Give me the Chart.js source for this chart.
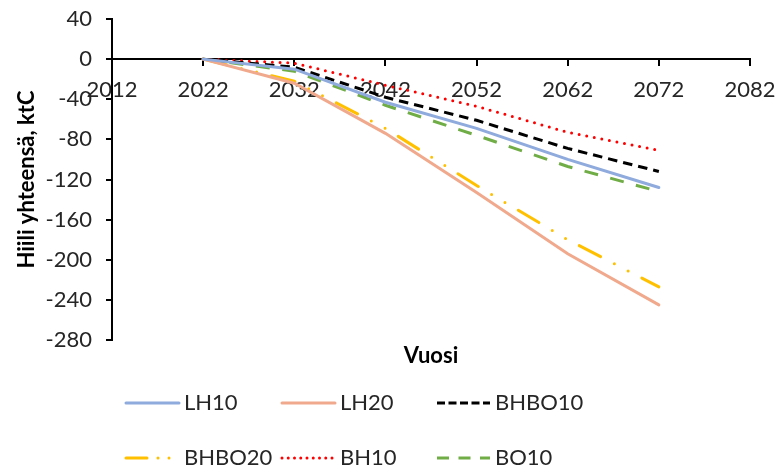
<!DOCTYPE html>
<html>
<head>
<meta charset="utf-8">
<script src="https://cdn.jsdelivr.net/npm/chart.js@4.4.1/dist/chart.umd.min.js"></script>
<style>
    html, body { margin: 0; padding: 0; background: #fff; }
    #wrap { width: 776px; height: 468px; }
</style>
</head>
<body>
<div id="wrap"><canvas id="carbonChart" width="776" height="468"></canvas></div>
<script>
// Total carbon per scenario, ktC
const years = [2022, 2032, 2042, 2052, 2062, 2072];
const lh10 = [0, -10, -43, -69, -100, -128];
const lh20 = [0, -24, -74, -133, -194, -245];
const bhbo10 = [0, -8, -38, -61, -89, -112];
const bhbo20 = [0, -22, -69, -126, -180, -227];
const bh10 = [0, -4, -26, -47, -73, -91];
const bo10 = [0, -12, -46, -76, -107, -132];

const FONT = 'Lato, "Open Sans", sans-serif';
const TEXT = '#262626';

function toPoints(values) {
    return values.map((v, i) => ({ x: years[i], y: v }));
}

function series(label, values, color, dash, cap, legendDash) {
    return {
        label: label,
        data: toPoints(values),
        borderColor: color,
        borderWidth: 3,
        borderDash: dash,
        borderCapStyle: cap,
        legendDash: legendDash,
        pointRadius: 0,
        tension: 0,
        fill: false
    };
}

// tick labels may overhang the plot edges; layout padding already leaves room
function noOverhang(scale) {
    scale.paddingTop = 0;
    scale.paddingBottom = 0;
    scale.paddingLeft = 0;
    scale.paddingRight = 0;
}

// Legend laid out in a fixed 3x2 grid below the plot
const legendCols = [126, 282, 437];
const legendRows = [403, 458];
const sampleLen = 53;

const bottomTexts = {
    id: 'bottomTexts',
    afterDraw(chart) {
        const ctx = chart.ctx;
        const area = chart.chartArea;
        ctx.save();

        // x axis title sits under the plot, not at the zero line
        ctx.fillStyle = '#000';
        ctx.font = 'bold 22px ' + FONT;
        ctx.textAlign = 'center';
        ctx.textBaseline = 'middle';
        ctx.fillText('Vuosi', (area.left + area.right) / 2, 356);

        ctx.font = '22px ' + FONT;
        ctx.textAlign = 'left';
        chart.data.datasets.forEach((ds, i) => {
            const x = legendCols[i % 3];
            const y = legendRows[Math.floor(i / 3)];
            ctx.strokeStyle = ds.borderColor;
            ctx.lineWidth = ds.borderWidth;
            ctx.lineCap = ds.borderCapStyle || 'butt';
            ctx.setLineDash(ds.legendDash || ds.borderDash || []);
            ctx.beginPath();
            ctx.moveTo(x, y);
            ctx.lineTo(x + sampleLen, y);
            ctx.stroke();
            ctx.setLineDash([]);
            ctx.fillStyle = TEXT;
            ctx.fillText(ds.label, x + sampleLen + 5, y);
        });
        ctx.restore();
    }
};

new Chart(document.getElementById('carbonChart'), {
    type: 'line',
    data: {
        datasets: [
            series('LH10', lh10, '#8FAADC', [], 'round'),
            series('LH20', lh20, '#F0A98C', [], 'round'),
            series('BHBO10', bhbo10, '#000000', [9.5, 6], 'butt', [8, 3.5]),
            series('BHBO20', bhbo20, '#FFC000', [24, 15.5, 0, 15.5, 0, 15.5], 'round', [21, 11, 0, 11, 0, 11]),
            series('BH10', bh10, '#FF0000', [0, 7.7], 'round', [0, 6.25]),
            series('BO10', bo10, '#70AD47', [14, 12.6], 'butt', [12, 9.5])
        ]
    },
    options: {
        animation: false,
        responsive: false,
        layout: { padding: { left: 0, right: 26, top: 19, bottom: 128 } },
        plugins: {
            legend: { display: false },
            tooltip: { enabled: false }
        },
        scales: {
            x: {
                type: 'linear',
                position: { y: 0 },
                min: 2012,
                max: 2082,
                ticks: {
                    stepSize: 10,
                    maxRotation: 0,
                    padding: 12,
                    color: TEXT,
                    font: { family: FONT, size: 22 },
                    callback: v => String(v)
                },
                grid: { drawOnChartArea: false, drawTicks: true, tickLength: 6, color: '#000', lineWidth: 2 },
                border: { color: '#000', width: 2 },
                afterFit: noOverhang
            },
            y: {
                min: -280,
                max: 40,
                ticks: {
                    stepSize: 40,
                    padding: 14,
                    color: TEXT,
                    font: { family: FONT, size: 22 }
                },
                grid: { drawOnChartArea: false, drawTicks: true, tickLength: 6, color: '#000', lineWidth: 2 },
                border: { color: '#000', width: 2 },
                title: {
                    display: true,
                    text: 'Hiili yhteensä, ktC',
                    color: '#000',
                    font: { family: FONT, size: 22, weight: 'bold' },
                    padding: { top: 14, bottom: 0 }
                },
                afterFit(scale) {
                    noOverhang(scale);
                    scale.width = 112;
                }
            }
        }
    },
    plugins: [bottomTexts]
});
</script>
</body>
</html>
